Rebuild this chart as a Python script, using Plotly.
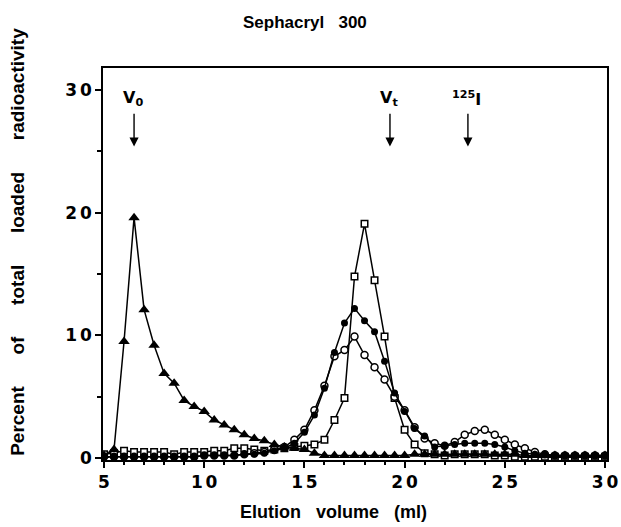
import plotly.graph_objects as go

# Elution volume (ml) for each fraction
VOLUME = [5.0, 5.5, 6.0, 6.5, 7.0, 7.5, 8.0, 8.5, 9.0, 9.5,
          10.0, 10.5, 11.0, 11.5, 12.0, 12.5, 13.0, 13.5, 14.0, 14.5,
          15.0, 15.5, 16.0, 16.5, 17.0, 17.5, 18.0, 18.5, 19.0, 19.5,
          20.0, 20.5, 21.0, 21.5, 22.0, 22.5, 23.0, 23.5, 24.0, 24.5,
          25.0, 25.5, 26.0, 26.5, 27.0, 27.5, 28.0, 28.5, 29.0, 29.5, 30.0]

# Filled triangles (void-volume peak)
TRIANGLES = [0.2, 0.7, 9.5, 19.6, 12.1, 9.2, 6.9, 6.1, 4.7, 4.2,
             3.8, 3.1, 2.7, 2.3, 1.9, 1.6, 1.4, 1.1, 0.9, 0.8,
             0.7, 0.4, 0.2, 0.2, 0.2, 0.2, 0.2, 0.2, 0.2, 0.2,
             0.2, 0.3, 0.3, 0.3, 0.3, 0.3, 0.3, 0.3, 0.3, 0.3,
             0.3, 0.3, 0.2, 0.2, 0.2, 0.2, 0.2, 0.2, 0.2, 0.2, 0.2]

# Filled circles
FILLED_CIRCLES = [0.1, 0.1, 0.1, 0.1, 0.1, 0.1, 0.1, 0.1, 0.1, 0.1,
                  0.2, 0.2, 0.2, 0.2, 0.3, 0.3, 0.4, 0.6, 0.8, 1.2,
                  2.1, 3.5, 5.7, 8.6, 11.0, 12.2, 11.2, 10.3, 7.9, 5.3,
                  3.8, 2.4, 1.8, 0.9, 1.0, 1.1, 1.2, 1.2, 1.2, 1.1,
                  0.9, 0.6, 0.4, 0.3, 0.3, 0.2, 0.2, 0.2, 0.2, 0.2, 0.2]

# Open circles
OPEN_CIRCLES = [0.1, 0.1, 0.1, 0.1, 0.1, 0.1, 0.1, 0.1, 0.1, 0.1,
                0.2, 0.2, 0.2, 0.2, 0.3, 0.4, 0.5, 0.7, 0.9, 1.5,
                2.3, 3.9, 5.9, 8.3, 8.8, 9.9, 8.4, 7.4, 6.4, 5.0,
                3.9, 2.5, 1.6, 1.2, 1.0, 1.3, 1.9, 2.2, 2.3, 1.9,
                1.5, 1.1, 0.8, 0.5, 0.3, 0.2, 0.2, 0.2, 0.2, 0.2, 0.2]

# Open squares
SQUARES = [0.3, 0.4, 0.6, 0.5, 0.5, 0.5, 0.5, 0.3, 0.5, 0.5,
           0.5, 0.6, 0.6, 0.8, 0.8, 0.7, 0.6, 0.7, 0.8, 0.9,
           1.0, 1.1, 1.5, 3.1, 4.9, 14.8, 19.1, 14.5, 9.9, 4.9,
           2.3, 1.1, 0.4, 0.3, 0.2, 0.3, 0.3, 0.3, 0.3, 0.2,
           0.2, 0.1, 0.1, 0.1, 0.1, 0.1, 0.1, 0.1, 0.1, 0.1, 0.1]

X_TICKS = [5, 10, 15, 20, 25, 30]
Y_TICKS = [0, 10, 20, 30]

# Marker annotations: label, position (ml)
MARKERS = [("V<sub>0</sub>", 6.5), ("V<sub>t</sub>", 19.27), ("<sup>125</sup>I", 23.16)]

FONT = "Liberation Sans"
TICK_FONT = "DejaVu Sans"
GAP3 = "\u00a0" * 3
GAP6 = "\u00a0" * 6
DIGIT_GAP = "\u2006"

fig = go.Figure()

line_style = dict(color="black", width=1.5)

fig.add_trace(go.Scatter(x=VOLUME, y=SQUARES, mode="lines+markers", line=line_style,
                         marker=dict(symbol="square", size=6.5, color="white",
                                     line=dict(color="black", width=1.5)),
                         showlegend=False))
fig.add_trace(go.Scatter(x=VOLUME, y=OPEN_CIRCLES, mode="lines+markers", line=line_style,
                         marker=dict(symbol="circle", size=7, color="white",
                                     line=dict(color="black", width=1.5)),
                         showlegend=False))
fig.add_trace(go.Scatter(x=VOLUME, y=FILLED_CIRCLES, mode="lines+markers", line=line_style,
                         marker=dict(symbol="circle", size=7, color="black"),
                         showlegend=False))
fig.add_trace(go.Scatter(x=VOLUME, y=TRIANGLES, mode="lines+markers", line=line_style,
                         marker=dict(symbol="triangle-up", size=10, color="black"),
                         showlegend=False))

annotations = []
for label, xv in MARKERS:
    annotations.append(dict(x=xv, y=25.4, ax=xv, ay=28.2, xref="x", yref="y",
                            axref="x", ayref="y", text="", showarrow=True,
                            arrowhead=2, arrowsize=1.3, arrowwidth=1.4,
                            arrowcolor="black"))
    annotations.append(dict(x=xv - 0.05, y=29.3, xref="x", yref="y", text=label,
                            showarrow=False, xanchor="center", yanchor="middle",
                            font=dict(family=TICK_FONT, size=16, color="black", weight="bold")))

annotations.append(dict(x=0.40, y=1.117, xref="paper", yref="paper",
                        xanchor="center", yanchor="middle",
                        text="Sephacryl" + GAP3 + "300", showarrow=False,
                        font=dict(family=FONT, size=17, color="black", weight="bold")))
annotations.append(dict(x=0.458, y=-0.133, xref="paper", yref="paper",
                        xanchor="center", yanchor="middle",
                        text="Elution" + GAP3 + "volume" + GAP3 + "(ml)", showarrow=False,
                        font=dict(family=FONT, size=18, color="black", weight="bold")))
annotations.append(dict(x=-0.171, y=0.556, xref="paper", yref="paper", textangle=-90,
                        xanchor="center", yanchor="middle",
                        text=GAP6.join(["Percent", "of", "total", "loaded", "radioactivity"]),
                        showarrow=False,
                        font=dict(family=FONT, size=19, color="black", weight="bold")))

tickfont = dict(family=TICK_FONT, size=17, color="black", weight="bold")

fig.update_layout(
    width=621, height=527,
    margin=dict(l=103, r=14, t=68, b=67, autoexpand=False),
    plot_bgcolor="white", paper_bgcolor="white",
    annotations=annotations,
    xaxis=dict(range=[4.95, 30.1], tickvals=X_TICKS,
               ticktext=[DIGIT_GAP.join(str(v)) for v in X_TICKS],
               showline=True, linecolor="black", linewidth=1.5, mirror=True,
               ticks="outside", ticklen=6, tickwidth=1.5, tickcolor="black",
               minor=dict(dtick=1, tick0=5, ticks="outside", ticklen=3, tickcolor="black"),
               showgrid=False, zeroline=False, tickfont=tickfont),
    yaxis=dict(range=[-0.16, 31.8], tickvals=Y_TICKS,
               ticktext=[DIGIT_GAP.join(str(v)) for v in Y_TICKS],
               showline=True, linecolor="black", linewidth=1.5, mirror=True,
               ticks="outside", ticklen=6, tickwidth=1.5, tickcolor="black",
               minor=dict(dtick=5, tick0=0, ticks="outside", ticklen=4, tickcolor="black"),
               showgrid=False, zeroline=False, tickfont=tickfont),
)

fig.write_html("out.html", config={"displayModeBar": False},
               post_script="document.body.style.margin='0';document.body.style.overflow='hidden';")
